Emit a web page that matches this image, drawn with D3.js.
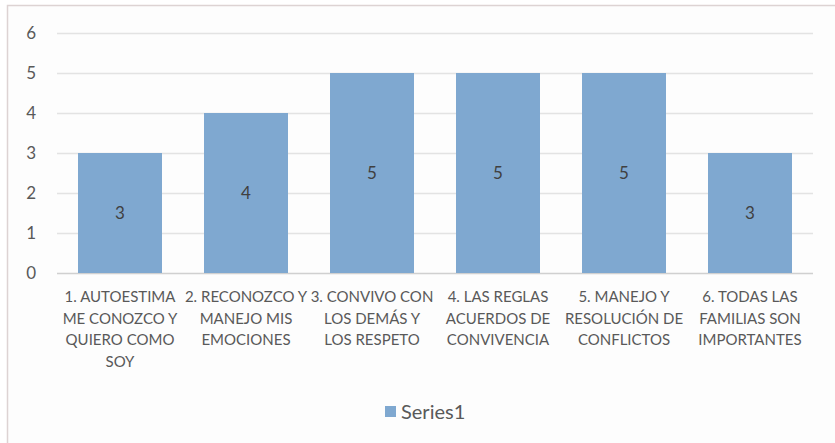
<!DOCTYPE html>
<html lang="es">
<head>
  <meta charset="UTF-8">
  <title>Series1</title>
  <script src="https://d3js.org/d3.v7.min.js"></script>
  <style>
    html, body { margin: 0; padding: 0; background: #fff; }
    svg text { font-family: Lato, "Open Sans", sans-serif; }
  </style>
</head>
<body>
  <svg id="chart" width="835" height="443"></svg>
  <script>
    // chart data
    const categories = [
      ["1. AUTOESTIMA", "ME CONOZCO Y", "QUIERO COMO", "SOY"],
      ["2. RECONOZCO Y", "MANEJO MIS", "EMOCIONES"],
      ["3. CONVIVO CON", "LOS DEMÁS Y", "LOS RESPETO"],
      ["4. LAS REGLAS", "ACUERDOS DE", "CONVIVENCIA"],
      ["5. MANEJO Y", "RESOLUCIÓN DE", "CONFLICTOS"],
      ["6. TODAS LAS", "FAMILIAS SON", "IMPORTANTES"]
    ];
    const series1 = [3, 4, 5, 5, 5, 3];
    const yTicks = [0, 1, 2, 3, 4, 5, 6];
    const seriesName = "Series1";

    const svg = d3.select('#chart');
    const barColor = '#7fa8d0';
    const textColor = '#595959';

    // outer chart frame (runs off the right and bottom edges)
    svg.append('rect')
      .attr('x', 7.5).attr('y', 5.5)
      .attr('width', 840).attr('height', 450)
      .attr('fill', '#fdfdfd')
      .attr('stroke', '#ddd3d3')
      .attr('stroke-width', 1.5);

    const margin = { top: 33, left: 57, right: 22, bottom: 170 };
    const x = d3.scaleBand()
      .domain(categories.map((d, i) => i))
      .range([margin.left, 835 - margin.right])
      .paddingInner(1 / 3)
      .paddingOuter(1 / 6);

    const y = d3.scaleLinear()
      .domain([0, 6])
      .range([273, 33]);

    // gridlines
    svg.append('g')
      .selectAll('line')
      .data(yTicks)
      .enter()
      .append('line')
      .attr('x1', margin.left)
      .attr('x2', 835 - margin.right)
      .attr('y1', d => y(d) + 0.5)
      .attr('y2', d => y(d) + 0.5)
      .attr('stroke', d => d === 0 ? '#d0d0d0' : '#e3e3e3')
      .attr('stroke-width', 1.5);

    // y axis labels
    const yAxis = d3.axisLeft(y).tickValues(yTicks).tickSize(0).tickPadding(0).tickFormat(d3.format('d'));
    const yg = svg.append('g')
      .attr('transform', 'translate(36,0)')
      .call(yAxis);
    yg.select('.domain').remove();
    yg.selectAll('text')
      .attr('fill', textColor)
      .style('font-size', '17px')
      .style('font-family', 'Lato, sans-serif');

    // bars
    svg.append('g')
      .selectAll('rect')
      .data(series1)
      .enter()
      .append('rect')
      .attr('x', (d, i) => x(i))
      .attr('y', d => y(d))
      .attr('width', x.bandwidth())
      .attr('height', d => y(0) - y(d))
      .attr('fill', barColor);

    // data labels in the middle of each bar
    svg.append('g')
      .selectAll('text')
      .data(series1)
      .enter()
      .append('text')
      .attr('x', (d, i) => x(i) + x.bandwidth() / 2)
      .attr('y', d => (y(d) + y(0)) / 2)
      .attr('dy', '0.35em')
      .attr('text-anchor', 'middle')
      .attr('fill', '#404040')
      .style('font-size', '17px')
      .text(d => d);

    // category labels, several lines each
    const catG = svg.append('g')
      .selectAll('text')
      .data(categories)
      .enter()
      .append('text')
      .attr('text-anchor', 'middle')
      .attr('fill', textColor)
      .style('font-size', '15px');

    catG.selectAll('tspan')
      .data((d, i) => d.map(line => ({ line, i })))
      .enter()
      .append('tspan')
      .attr('x', d => x(d.i) + x.bandwidth() / 2)
      .attr('y', (d, j) => 302 + j * 21.5)
      .text(d => d.line);

    // legend
    const legend = svg.append('g').attr('transform', 'translate(385,406)');
    legend.append('rect')
      .attr('width', 11).attr('height', 11)
      .attr('fill', barColor);
    legend.append('text')
      .attr('x', 16).attr('y', 12.5)
      .attr('fill', textColor)
      .style('font-size', '20px')
      .text(seriesName);
  </script>
</body>
</html>
